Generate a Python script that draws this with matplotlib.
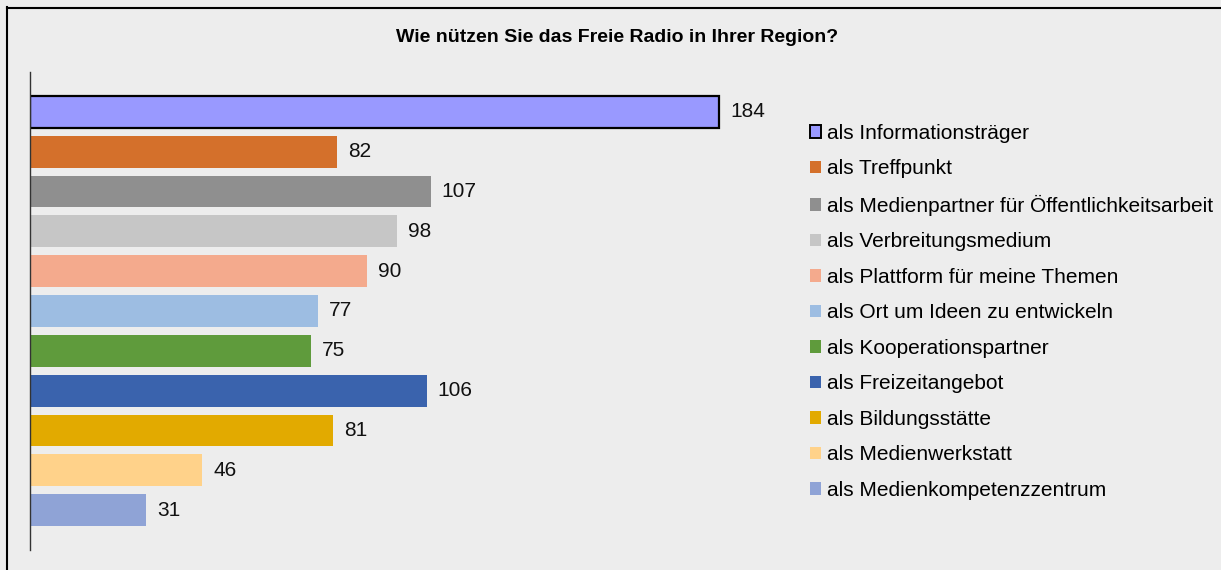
"""Horizontal bar chart: Nutzung des Freien Radios in der Region."""
import matplotlib
matplotlib.use("Agg")
import matplotlib.pyplot as plt
from matplotlib.lines import Line2D
from matplotlib.patches import Patch

plt.rcParams["font.family"] = ["Liberation Sans", "DejaVu Sans"]

TITLE = "Wie nützen Sie das Freie Radio in Ihrer Region?"
CATEGORIES = [
    "als Informationsträger",
    "als Treffpunkt",
    "als Medienpartner für Öffentlichkeitsarbeit",
    "als Verbreitungsmedium",
    "als Plattform für meine Themen",
    "als Ort um Ideen zu entwickeln",
    "als Kooperationspartner",
    "als Freizeitangebot",
    "als Bildungsstätte",
    "als Medienwerkstatt",
    "als Medienkompetenzzentrum",
]
VALUES = [184, 82, 107, 98, 90, 77, 75, 106, 81, 46, 31]
COLORS = ["#9999FF", "#D4702B", "#8F8F8F", "#C6C6C6", "#F4AA8D", "#9DBDE2",
          "#5F9B3C", "#3A63AD", "#E2AA00", "#FFD28A", "#8FA3D6"]
BG = "#EDEDED"


def main() -> None:
    fig = plt.figure(figsize=(12.21, 5.7), dpi=100, facecolor=BG)
    ax = fig.add_axes([30 / 1221, 1 - 550 / 570, 749 / 1221, 478 / 570])
    ax.set_facecolor(BG)

    ypos = list(range(len(VALUES)))
    edges = ["black"] + ["none"] * (len(VALUES) - 1)
    ax.barh(ypos, VALUES, height=0.8, color=COLORS, edgecolor=edges,
            linewidth=[1.6] + [0] * (len(VALUES) - 1))
    for y, v in zip(ypos, VALUES):
        ax.text(v + 2.9, y, str(v), va="center", ha="left", fontsize=15, color="#111111")

    ax.set_xlim(0, 200)
    ax.set_ylim(len(VALUES), -1)
    for s in ["top", "right", "bottom"]:
        ax.spines[s].set_visible(False)
    ax.spines["left"].set_color("#333333")
    ax.spines["left"].set_linewidth(1.0)
    ax.set_xticks([])
    ax.set_yticks([])

    handles = [Patch(facecolor=c, edgecolor="black" if i == 0 else c, linewidth=1.4 if i == 0 else 0)
               for i, c in enumerate(COLORS)]
    fig.legend(handles, CATEGORIES, loc="upper left", bbox_to_anchor=(810 / 1221, 1 - 124 / 570),
               frameon=False, fontsize=15, handlelength=0.55, handleheight=0.55,
               handletextpad=0.25, labelspacing=0.79, borderaxespad=0, borderpad=0)

    fig.text(617 / 1221, 1 - 37 / 570, TITLE, ha="center", va="center",
             fontsize=14, fontweight="bold")

    # frame around the chart (top and left edges visible)
    fig.add_artist(Line2D([7 / 1221, 1], [1 - 7.5 / 570] * 2, transform=fig.transFigure,
                          color="black", lw=1.5))
    fig.add_artist(Line2D([7.5 / 1221] * 2, [0, 1 - 7 / 570], transform=fig.transFigure,
                          color="black", lw=1.5))

    fig.savefig("out.png", dpi=100, facecolor=BG)


if __name__ == "__main__":
    main()
